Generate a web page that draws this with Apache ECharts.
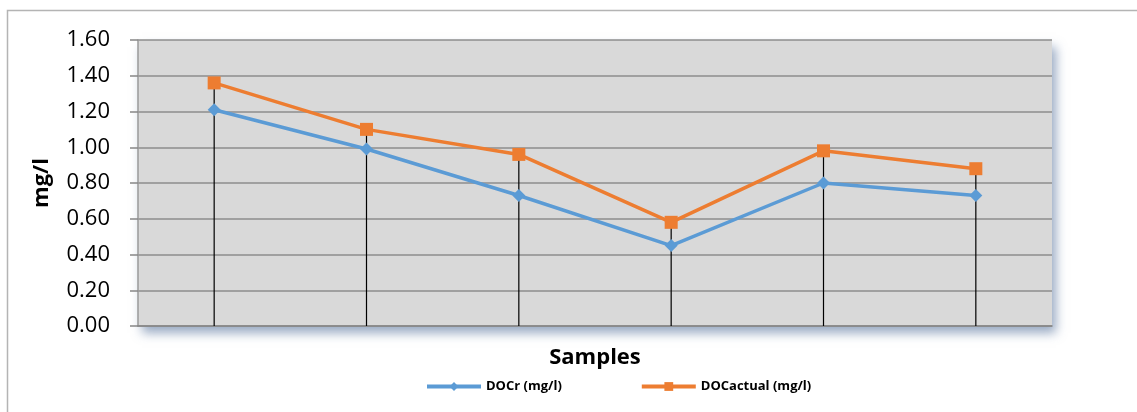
<!DOCTYPE html>
<html>
<head>
<meta charset="utf-8">
<script src="https://cdn.jsdelivr.net/npm/echarts@6/dist/echarts.min.js"></script>
<style>html,body{margin:0;padding:0;background:#fff;}#c{width:1137px;height:412px;}</style>
</head>
<body>
<div id="c"></div>
<script>
const categories = ['S1', 'S2', 'S3', 'S4', 'S5', 'S6'];
const docR = [1.21, 0.99, 0.73, 0.45, 0.80, 0.73];
const docActual = [1.36, 1.10, 0.96, 0.58, 0.98, 0.88];
const seriesNames = ['DOCr (mg/l)', 'DOCactual (mg/l)'];
const yTicks = { min: 0, max: 1.6, interval: 0.2 };

const chart = echarts.init(document.getElementById('c'), null, { renderer: 'canvas' });
const font = '"Open Sans", "Liberation Sans", sans-serif';
chart.setOption({
  animation: false,
  textStyle: { fontFamily: font },
  graphic: [{
    type: 'rect', z: -10, silent: true,
    shape: { x: 7.5, y: 10.5, width: 1200, height: 500 },
    style: { fill: '#fff', stroke: '#b4b4b4', lineWidth: 1.5 }
  }],
  grid: {
    left: 138, right: 85, top: 40, bottom: 86,
    show: true, backgroundColor: '#d9d9d9', borderWidth: 0,
    shadowColor: 'rgba(70,100,145,0.55)', shadowBlur: 10, shadowOffsetX: 4, shadowOffsetY: 7
  },
  legend: {
    data: seriesNames,
    bottom: 14, left: 420,
    itemWidth: 54, itemHeight: 11, itemGap: 78,
    lineStyle: { width: 4 },
    textStyle: { fontFamily: font, fontSize: 13, fontWeight: 'bold', color: '#000' }
  },
  xAxis: {
    type: 'category', data: categories, boundaryGap: true,
    name: 'Samples', nameLocation: 'middle', nameGap: 21,
    nameTextStyle: { fontFamily: font, fontSize: 22, fontWeight: 'bold', color: '#000' },
    axisLine: { lineStyle: { color: '#868686', width: 1.5 } },
    axisTick: { show: false },
    axisLabel: { show: false },
    splitLine: { show: false }
  },
  yAxis: {
    type: 'value', min: yTicks.min, max: yTicks.max, interval: yTicks.interval,
    name: 'mg/l', nameLocation: 'middle', nameGap: 85, nameRotate: 90,
    nameTextStyle: { fontFamily: font, fontSize: 22, fontWeight: 'bold', color: '#000' },
    axisLine: { show: true, lineStyle: { color: '#9a9a9a', width: 1.5 } },
    axisTick: { show: true, length: 8, lineStyle: { color: '#868686', width: 1.5 } },
    axisLabel: { formatter: v => v.toFixed(2), fontFamily: font, fontSize: 22, color: '#000', margin: 28 },
    splitLine: { lineStyle: { color: '#8c8c8c', width: 1.5 } }
  },
  series: [
    {
      name: 'drop', type: 'bar', data: docActual, barWidth: 1.2, z: 1,
      itemStyle: { color: '#000' }, silent: true, legendHoverLink: false
    },
    {
      name: seriesNames[0], type: 'line', data: docR, z: 3,
      symbol: 'diamond', symbolSize: 13,
      lineStyle: { color: '#5b9bd5', width: 3.5 },
      itemStyle: { color: '#5b9bd5' }
    },
    {
      name: seriesNames[1], type: 'line', data: docActual, z: 4,
      symbol: 'rect', symbolSize: 13,
      lineStyle: { color: '#ed7d31', width: 3.5 },
      itemStyle: { color: '#ed7d31' }
    }
  ]
});
</script>
</body>
</html>
